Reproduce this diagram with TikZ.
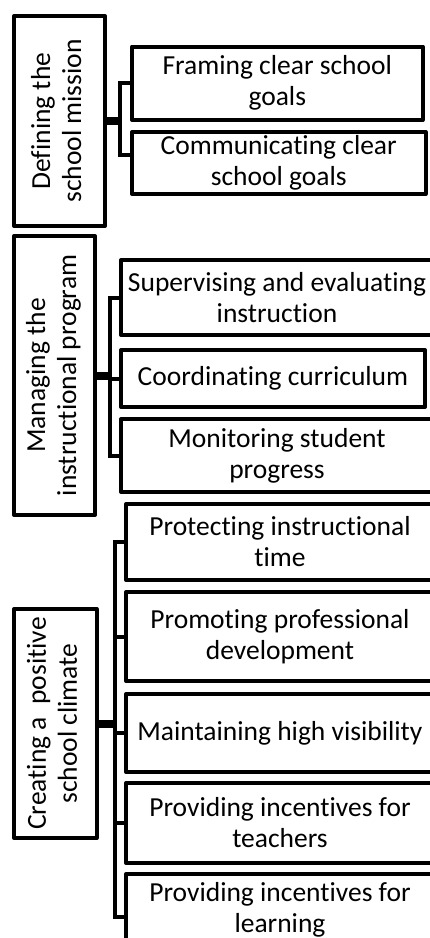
\documentclass[tikz,border=0pt]{standalone}
\usepackage{fontspec}
\setmainfont{Carlito}[Ligatures=NoCommon]
\usepackage{graphicx}
\usepackage{tikz}

% upright two-line label turned on its side
\newcommand{\sidetext}[1]{\rotatebox{90}{\begin{tabular}{@{}c@{}}#1\end{tabular}}}

\begin{document}
\begin{tikzpicture}[x=1pt, y=-1pt,
    area/.style={draw, line width=4pt, line join=round, inner sep=0pt, font=\fontsize{27.5}{31}\selectfont},
    task/.style={draw, line width=4pt, line join=round, align=center, inner sep=0pt, font=\fontsize{27.5}{31}\selectfont},
    link/.style={line width=4pt},
    trunk/.style={line width=8pt}
  ]
    \useasboundingbox (0,0) rectangle (429,938);

    % first area
    \node[area, minimum width=91pt, minimum height=210pt] (mission) at (59.5,121) {\sidetext{Defining the\\school mission}};
    \node[task, minimum width=290.5pt, minimum height=73.5pt] (framing) at (277.25,83.25) {Framing clear school\\goals};
    \node[task, minimum width=293.5pt, minimum height=62pt] (communicating) at (278.75,163) {Communicating clear\\school goals};

    % second area
    \node[area, minimum width=81pt, minimum height=279pt] (program) at (54.5,375.5) {\sidetext{Managing the\\instructional program}};
    \node[task, minimum width=312pt, minimum height=75pt] (supervising) at (277,297.5) {Supervising and evaluating\\instruction};
    \node[task, minimum width=304pt, minimum height=57pt] (coordinating) at (273,378.5) {Coordinating curriculum};
    \node[task, minimum width=312pt, minimum height=73pt] (monitoring) at (277,455.5) {Monitoring student\\progress};

    % third area
    \node[area, minimum width=82.5pt, minimum height=229pt] (climate) at (55.25,723.5) {\sidetext{Creating a~ positive\\school climate}};
    \node[task, minimum width=308pt, minimum height=76pt] (protecting) at (280,542) {Protecting instructional\\time};
    \node[task, minimum width=308pt, minimum height=89pt] (promoting) at (280,636.5) {Promoting professional\\development};
    \node[task, minimum width=308pt, minimum height=78pt] (visibility) at (280,733) {Maintaining high visibility};
    \node[task, minimum width=308pt, minimum height=80pt] (teachers) at (280,823) {Providing incentives for\\teachers};
    \node[task, minimum width=308pt, minimum height=72pt] (learning) at (280,910) {Providing incentives for\\learning};

    % bus lines
    \coordinate (busA) at (120,0);
    \coordinate (busB) at (109.5,0);
    \coordinate (busC) at (114.5,0);

    \draw[trunk] (mission.east) -- (mission.east -| busA);
    \draw[link] (mission.east -| busA) |- (framing.west);
    \draw[link] (mission.east -| busA) |- ([yshift=8pt]communicating.west);

    \draw[trunk] (program.east) -- (program.east -| busB);
    \foreach \t in {supervising,coordinating,monitoring}
      \draw[link] (program.east -| busB) |- (\t.west);

    \draw[trunk] (climate.east) -- (climate.east -| busC);
    \foreach \t in {protecting,promoting,visibility,teachers}
      \draw[link] (climate.east -| busC) |- (\t.west);
    \draw[link] (climate.east -| busC) |- ([yshift=-7pt]learning.west);
\end{tikzpicture}
\end{document}
